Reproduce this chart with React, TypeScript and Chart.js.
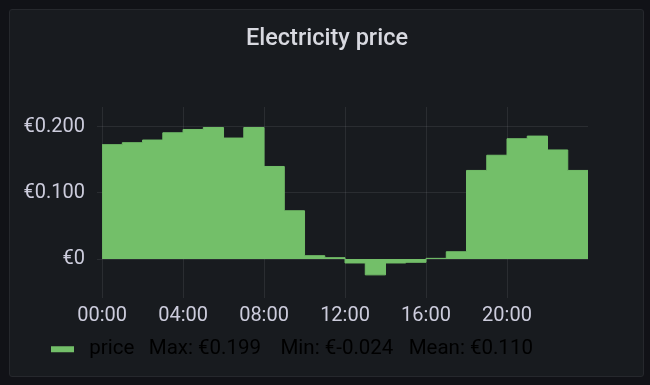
import { useEffect, useRef } from "react";
import { Chart, registerables } from "chart.js";

Chart.register(...registerables);

// ---- data ----
const hourStarts = [0, 1, 2, 3, 4, 5, 6, 7, 8, 9, 10, 11, 12, 13, 14, 15, 16, 17, 18, 19, 20, 21, 22, 23];
const dayEnd = 24;
const prices = [
  0.173, 0.176, 0.18, 0.191, 0.196, 0.199, 0.183, 0.199, 0.14, 0.073, 0.005, 0.002,
  -0.006, -0.024, -0.006, -0.005, 0.001, 0.011, 0.134, 0.157, 0.182, 0.186, 0.165, 0.134,
];
const xTickHours = [0, 4, 8, 12, 16, 20];
const xTickLabels = ["00:00", "04:00", "08:00", "12:00", "16:00", "20:00"];
const yTickValues = [0, 0.1, 0.2];
const yTickLabels = ["€0", "€0.100", "€0.200"];
const seriesName = "price";
const legendStats = ["Max: €0.199", "Min: €-0.024", "Mean: €0.110"];
const chartTitle = "Electricity price";

const GREEN = "#73bf69";
const TEXT = "#ccccdc";
const GRID = "rgba(204,204,220,0.10)";
const FONT = "Roboto";

// shifts the legend row to the right, to line up under the plot like the reference
const legendShift = {
  id: "legendShift",
  afterLayout(chart: any) {
    if (chart.legend) chart.legend.left += 30;
  },
};

export default function App() {
  const ref = useRef<HTMLCanvasElement>(null);

  useEffect(() => {
    const canvas = ref.current;
    if (!canvas) return;
    const points = prices
      .map((v, i) => ({ x: hourStarts[i], y: v }))
      .concat([{ x: dayEnd, y: prices[prices.length - 1] }]);
    const legendText =
      " " + seriesName + "  \u2009" + legendStats[0] + "   \u2009" + legendStats[1] + "   " + legendStats[2];

    const chart = new Chart(canvas, {
      type: "line",
      data: {
        datasets: [
          {
            label: seriesName,
            data: points,
            stepped: "before",
            borderColor: GREEN,
            backgroundColor: GREEN,
            borderWidth: 1,
            fill: "origin",
            pointRadius: 0,
            pointHoverRadius: 0,
          },
        ],
      },
      plugins: [legendShift],
      options: {
        animation: false,
        responsive: false,
        maintainAspectRatio: false,
        devicePixelRatio: 1,
        events: [],
        layout: { padding: { left: 5, right: 4, top: 0, bottom: 6.5 } },
        plugins: {
          title: {
            display: true,
            text: chartTitle,
            color: "#d8d9e0",
            font: { family: FONT, size: 23.5, weight: "500" },
            padding: { top: 15, bottom: 53.8 },
          },
          legend: {
            display: true,
            position: "bottom",
            align: "start",
            labels: {
              boxWidth: 23,
              boxHeight: 6,
              padding: 6,
              color: TEXT,
              font: { family: FONT, size: 20.5 },
              generateLabels: () => [
                {
                  text: legendText,
                  fillStyle: GREEN,
                  strokeStyle: GREEN,
                  lineWidth: 0,
                  hidden: false,
                  datasetIndex: 0,
                },
              ],
            },
          },
          tooltip: { enabled: false },
        },
        scales: {
          x: {
            type: "linear",
            min: -0.25,
            max: 24,
            grid: { color: GRID, drawTicks: false },
            border: { display: false },
            ticks: {
              padding: 6,
              color: TEXT,
              font: { family: FONT, size: 20 },
              maxRotation: 0,
              autoSkip: false,
              callback: (v: any) => {
                const i = xTickHours.indexOf(Number(v));
                return i >= 0 ? xTickLabels[i] : "";
              },
            },
            afterBuildTicks: (s: any) => {
              s.ticks = xTickHours.map((v) => ({ value: v }));
            },
            afterFit: (s: any) => {
              s.height = 35;
            },
          },
          y: {
            type: "linear",
            position: "left",
            min: -0.059,
            max: 0.23,
            grid: { color: GRID, drawTicks: false },
            border: { display: false },
            ticks: {
              padding: 12,
              color: TEXT,
              font: { family: FONT, size: 20 },
              callback: (v: any) => {
                const i = yTickValues.findIndex((t) => Math.abs(t - Number(v)) < 1e-9);
                return i >= 0 ? yTickLabels[i] : "";
              },
            },
            afterBuildTicks: (s: any) => {
              s.ticks = yTickValues.map((v) => ({ value: v }));
            },
            afterFit: (s: any) => {
              s.width = 82;
            },
          },
          y2: {
            type: "linear",
            position: "right",
            display: true,
            grid: { display: false },
            border: { display: false },
            ticks: { display: false },
            afterFit: (s: any) => {
              s.width = 51;
            },
          },
        },
      },
    } as any);

    return () => chart.destroy();
  }, []);

  return (
    <div
      style={{
        position: "fixed",
        left: 0,
        top: 0,
        width: 650,
        height: 385,
        background: "#111217",
        overflow: "hidden",
      }}
    >
      <div
        style={{
          position: "absolute",
          left: 9,
          top: 9,
          width: 633,
          height: 366,
          background: "#181b1f",
          border: "1px solid #26282d",
          borderRadius: 3,
        }}
      >
        <canvas ref={ref} width={633} height={366} style={{ display: "block", width: 633, height: 366 }} />
      </div>
    </div>
  );
}
